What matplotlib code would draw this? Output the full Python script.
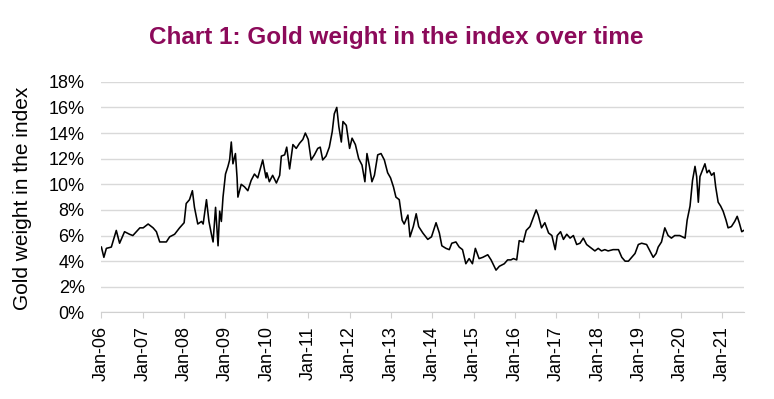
import matplotlib
matplotlib.use('Agg')
from matplotlib import pyplot as plt
from matplotlib.ticker import FixedLocator, PercentFormatter

plt.rcParams['font.family'] = ['Liberation Sans', 'DejaVu Sans']

# time in decimal years, gold weight in %
years = [
    2006.00, 2006.06, 2006.12, 2006.24, 2006.36, 2006.44, 2006.56, 2006.68, 2006.76, 2006.93,
    2007.01, 2007.13, 2007.25, 2007.33, 2007.41, 2007.57, 2007.65, 2007.77, 2007.89,
    2008.00, 2008.05, 2008.13, 2008.20, 2008.25, 2008.33, 2008.42, 2008.46, 2008.54, 2008.60,
    2008.66, 2008.70, 2008.76, 2008.82, 2008.86, 2008.90, 2008.94,
    2009.00, 2009.06, 2009.10, 2009.14, 2009.18, 2009.24, 2009.28, 2009.30, 2009.38, 2009.46,
    2009.54, 2009.62, 2009.70, 2009.78, 2009.90, 2009.98,
    2010.00, 2010.06, 2010.14, 2010.23, 2010.31, 2010.35, 2010.43, 2010.48, 2010.55, 2010.63,
    2010.71, 2010.79, 2010.87, 2010.93,
    2011.00, 2011.07, 2011.15, 2011.23, 2011.29, 2011.35, 2011.43, 2011.51, 2011.58, 2011.63,
    2011.69, 2011.74, 2011.80, 2011.84, 2011.92,
    2012.00, 2012.06, 2012.14, 2012.22, 2012.30, 2012.37, 2012.42, 2012.48, 2012.54, 2012.60,
    2012.68, 2012.76, 2012.84, 2012.92, 2012.99,
    2013.06, 2013.12, 2013.20, 2013.27, 2013.32, 2013.41, 2013.46, 2013.54, 2013.61, 2013.67,
    2013.77, 2013.89, 2013.98,
    2014.09, 2014.17, 2014.23, 2014.33, 2014.41, 2014.47, 2014.57, 2014.65, 2014.73, 2014.81,
    2014.89, 2014.97,
    2015.04, 2015.13, 2015.22, 2015.34, 2015.42, 2015.54, 2015.62, 2015.74, 2015.82, 2015.90,
    2015.96,
    2016.04, 2016.10, 2016.20, 2016.27, 2016.36, 2016.43, 2016.51, 2016.56, 2016.64, 2016.72,
    2016.81, 2016.89, 2016.97,
    2017.02, 2017.10, 2017.17, 2017.25, 2017.33, 2017.41, 2017.49, 2017.57, 2017.65, 2017.73,
    2017.85, 2017.93,
    2018.01, 2018.09, 2018.17, 2018.25, 2018.37, 2018.50, 2018.58, 2018.66, 2018.74, 2018.82,
    2018.90, 2018.98,
    2019.06, 2019.18, 2019.26, 2019.34, 2019.41, 2019.46, 2019.54, 2019.62, 2019.70, 2019.78,
    2019.86, 2019.98,
    2020.11, 2020.16, 2020.23, 2020.29, 2020.35, 2020.39, 2020.43, 2020.47, 2020.53, 2020.59,
    2020.64, 2020.69, 2020.75, 2020.81, 2020.85, 2020.91, 2020.97,
    2021.03, 2021.10, 2021.15, 2021.23, 2021.31, 2021.37, 2021.42, 2021.48, 2021.53,
]
weight = [
    5.1, 4.3, 5.0, 5.1, 6.4, 5.4, 6.3, 6.1, 6.0, 6.6,
    6.6, 6.9, 6.6, 6.3, 5.5, 5.5, 5.9, 6.1, 6.6,
    7.0, 8.5, 8.8, 9.5, 8.2, 6.9, 7.1, 6.9, 8.8, 7.1,
    6.1, 5.5, 8.2, 5.2, 7.9, 7.1, 9.0,
    10.8, 11.4, 11.9, 13.3, 11.6, 12.4, 10.5, 9.0, 10.0, 9.8,
    9.5, 10.3, 10.8, 10.5, 11.9, 10.5,
    10.9, 10.2, 10.7, 10.1, 10.7, 12.2, 12.3, 12.9, 11.2, 13.1,
    12.8, 13.2, 13.5, 14.0,
    13.5, 11.9, 12.3, 12.8, 12.9, 11.9, 12.2, 12.9, 14.1, 15.5,
    16.0, 14.5, 13.3, 14.9, 14.6,
    12.8, 13.6, 13.1, 12.0, 11.5, 10.2, 12.4, 11.4, 10.2, 10.7,
    12.3, 12.4, 11.9, 10.9, 10.5,
    9.8, 9.0, 8.8, 7.2, 6.9, 7.6, 5.9, 6.7, 7.7, 6.7,
    6.2, 5.7, 5.9,
    7.0, 6.2, 5.2, 5.0, 4.9, 5.4, 5.5, 5.1, 4.9, 3.8,
    4.2, 3.8,
    5.0, 4.2, 4.3, 4.5, 4.1, 3.3, 3.6, 3.8, 4.1, 4.1,
    4.2,
    4.1, 5.6, 5.5, 6.4, 6.7, 7.3, 8.0, 7.6, 6.6, 7.0,
    6.2, 6.0, 4.9,
    6.0, 6.3, 5.7, 6.1, 5.8, 6.0, 5.3, 5.4, 5.8, 5.3,
    5.0, 4.8,
    5.0, 4.8, 4.9, 4.8, 4.9, 4.9, 4.3, 4.0, 4.0, 4.3,
    4.6, 5.3,
    5.4, 5.3, 4.8, 4.3, 4.6, 5.1, 5.5, 6.6, 6.0, 5.8,
    6.0, 6.0,
    5.8, 7.2, 8.3, 10.3, 11.4, 10.6, 8.6, 10.6, 11.1, 11.6,
    10.9, 11.1, 10.7, 10.9, 9.8, 8.6, 8.3,
    7.9, 7.2, 6.6, 6.7, 7.1, 7.5, 7.0, 6.3, 6.4,
]

tick_years = list(range(2006, 2022))
tick_labels = ['Jan-%02d' % (y % 100) for y in tick_years]

fig = plt.figure(figsize=(7.74, 3.99), dpi=100)
ax = fig.add_axes([0.131, 0.217, 0.830, 0.578])

ax.plot(years, weight, color='black', lw=1.15)

ax.set_xlim(2006, 2021.53)
ax.set_ylim(0, 18)
ax.yaxis.set_major_locator(FixedLocator(range(0, 19, 2)))
ax.yaxis.set_major_formatter(PercentFormatter(decimals=0))
ax.xaxis.set_major_locator(FixedLocator(tick_years))
ax.set_xticklabels(tick_labels, rotation=90)

ax.grid(axis='y', color='#d9d9d9', lw=1.0)
ax.set_axisbelow(True)
for s in ['left', 'right', 'top']:
    ax.spines[s].set_visible(False)
ax.spines['bottom'].set_color('#d0d0d0')
ax.tick_params(axis='y', length=0, pad=12, labelsize=13)
ax.tick_params(axis='x', length=4, color='#d0d0d0', pad=6, labelsize=13)

fig.text(0.029, 0.503, 'Gold weight in the index', rotation=90,
         ha='center', va='center', fontsize=15)
fig.text(0.512, 0.89, 'Chart 1: Gold weight in the index over time',
         ha='center', va='baseline', fontsize=17.5, fontweight='bold', color='#8c0a5a')

fig.savefig('out.png', dpi=100)
